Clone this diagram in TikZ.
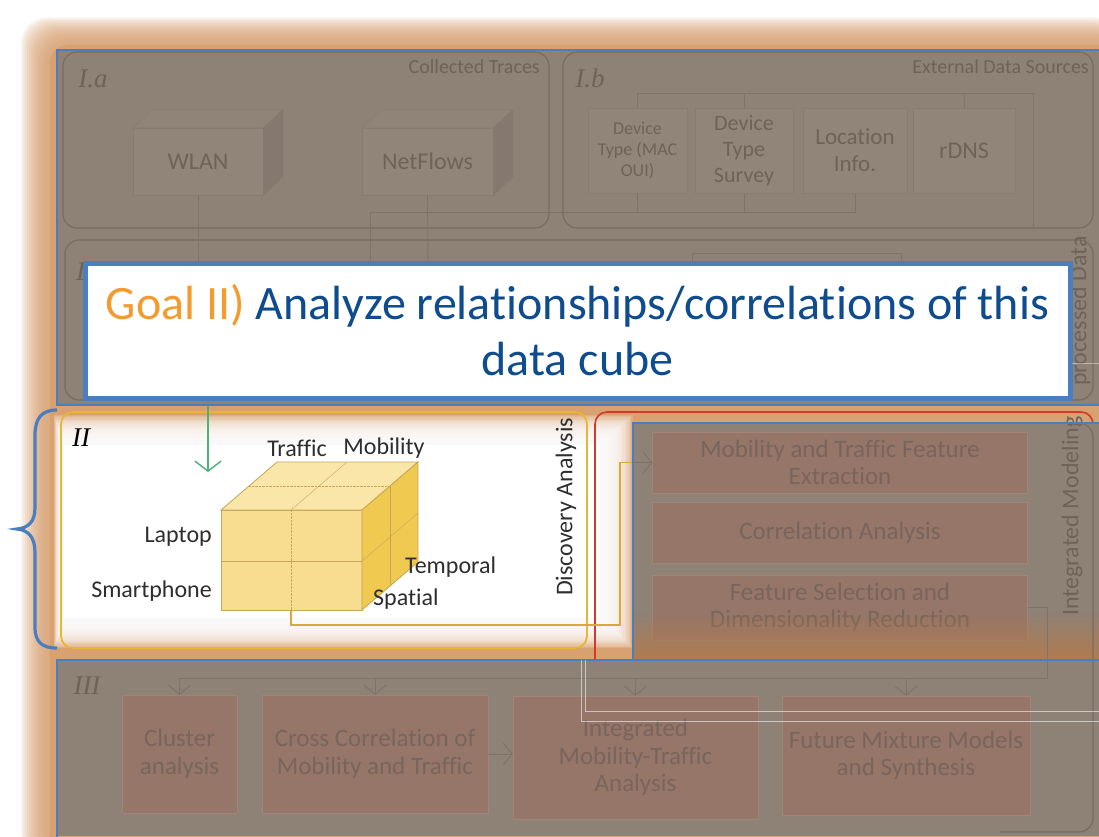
\documentclass[tikz,border=0pt]{standalone}
\usepackage{fontspec}
\setmainfont{Carlito}[Ligatures={NoCommon},RawFeature={-liga;-clig;-dlig}]
\newfontfamily\secfont{Liberation Serif}
\usepackage{tikz}
\usetikzlibrary{arrows.meta}
\usetikzlibrary{positioning}
\usetikzlibrary{fadings}

\definecolor{glow}{HTML}{D9A070}
\definecolor{paneglow}{HTML}{B27B4F}
\definecolor{dimbg}{HTML}{8E8176}
\definecolor{dimedge}{HTML}{786B62}
\definecolor{dimtxt}{HTML}{6F6259}
\definecolor{dimbox}{HTML}{957669}
\definecolor{dimboxtxt}{HTML}{7A655C}
\definecolor{frameblue}{HTML}{4A7EBF}
\definecolor{goalorange}{HTML}{F39B2F}
\definecolor{goalblue}{HTML}{0F4C8D}
\definecolor{cubefront}{HTML}{F8DC8F}
\definecolor{cubetop}{HTML}{FBE6A9}
\definecolor{cubeside}{HTML}{F0C950}
\definecolor{cubeedge}{HTML}{C7A659}
\definecolor{cubetxt}{HTML}{2E2E2E}
\definecolor{boxgold}{HTML}{EBB531}
\definecolor{linkgold}{HTML}{D8A838}
\definecolor{arrowgreen}{HTML}{4CB27A}
\definecolor{modred}{HTML}{D6392B}

\begin{document}
\begin{tikzpicture}[x=1pt,y=-1pt,every node/.style={inner sep=0pt},
  dimtext/.style={text=dimtxt,align=center,font=\fontsize{24}{27.5}\selectfont},
  srcbox/.style={draw=dimedge!25!dimbg,fill=dimbg!97!white,dimtext},
  srctop/.style={draw=dimedge!25!dimbg,fill=dimbg!98!white},
  srcside/.style={draw=dimedge!30!dimbg,fill=dimedge!40!dimbg},
  stepbox/.style={draw=dimbox!90!white,fill=dimbox,text=dimboxtxt,align=center,font=\fontsize{25}{27.5}\selectfont},
  sectionframe/.style={draw=dimedge,line width=1.2pt,rounded corners=14pt},
  dimline/.style={draw=dimedge!70!dimbg,line width=0.9pt},
  dimarrow/.style={dimline,-{Straight Barb[length=9pt,width=22pt]}},
  secname/.style={font=\secfont\itshape\fontsize{27}{27}\selectfont},
  cubelabel/.style={text=cubetxt,font=\fontsize{24}{28}\selectfont},
  cubeface/.style={draw=cubeedge,line width=0.8pt},
  pane/.style={fill=dimbg},
  paneframe/.style={draw=frameblue,line width=1.6pt}]
  \useasboundingbox (0,0) rectangle (1099,836);
  \fill[white] (0,0) rectangle (1099,836);

  % soft orange frame
  \foreach \k in {0,...,14}
    \fill[glow,opacity=0.13,rounded corners=26pt] ({49-2*\k},{44-1.9*\k}) rectangle (1120,860);
  \fill[glow,rounded corners=18pt] (50,45) rectangle (1120,860);

  % discovery analysis
  \fill[white] (64,445) rectangle (600,618);
  \foreach \k in {1,...,25}
    \fill[white,opacity=0.15] ({64-0.4*\k},{445-1.2*\k}) rectangle ({600+1.3*\k},{618+1.2*\k});
  \draw[boxgold,line width=1.8pt,rounded corners=12pt] (61,412) rectangle (587,648);
  \node (ii) at (81,438)[secname]{II};
  \node (disc) at (566,507)[rotate=90,text=cubetxt,font=\fontsize{24}{28}\selectfont]{Discovery Analysis};

  \path[cubeface,fill=cubefront] (221,510) rectangle (362,610);
  \path[cubeface,fill=cubetop] (221,510)--(277,462)--(418,462)--(362,510)--cycle;
  \path[cubeface,fill=cubeside] (362,510)--(418,462)--(418,562)--(362,610)--cycle;
  \draw[cubeedge,densely dotted] (291,510)--(291,610);
  \draw[cubeedge] (221,561)--(362,561);
  \draw[cubeedge,densely dotted] (249,486)--(390,486);
  \draw[cubeedge] (291,510)--(347,462);
  \draw[cubeedge] (390,486)--(390,586);
  \draw[cubeedge] (362,561)--(418,513);
  \coordinate (cubebot) at (291,610);
  \coordinate (bend) at (620,625);

  \node (traffic) at (297,448)[cubelabel]{Traffic};
  \node (mobility) at (384,448)[cubelabel]{Mobility};
  \node (laptop) at (212,537)[cubelabel,anchor=east]{Laptop};
  \node (phone) at (212,591)[cubelabel,anchor=east]{Smartphone};
  \node (temporal) at (405,567)[cubelabel,anchor=west]{Temporal};
  \node (spatial) at (373,599)[cubelabel,anchor=west]{Spatial};

  \draw[modred,line width=1.6pt,rounded corners=12pt] (595,660)|-(1093,412)--(1093,430);

  % collected traces and external sources
  \fill[pane] (57,50) rectangle (1099,405);
  \draw[sectionframe] (63,52) rectangle (549,228);
  \draw[sectionframe] (563,52) rectangle (1093,228);
  \draw[sectionframe] (65,240) rectangle (1093,400);
  \node (ia) at (93,79)[secname,text=dimtxt]{I.a};
  \node (ib) at (590,78)[secname,text=dimtxt]{I.b};
  \node (ic) at (90,272)[secname,text=dimtxt]{I.c};
  \node (traces) at (540,67)[dimtext,anchor=east,font=\fontsize{20}{22}\selectfont]{Collected Traces};
  \node (external) at (1089,67)[dimtext,anchor=east,font=\fontsize{20}{22}\selectfont]{External Data Sources};

  \node (wlan) at (198,161.5)[srcbox,minimum width=130pt,minimum height=67pt]{WLAN};
  \draw[srctop] (wlan.north west)--++(20,-18)--++(130,0)--(wlan.north east)--cycle;
  \draw[srcside] (wlan.north east)--++(20,-18)--++(0,67)--(wlan.south east)--cycle;
  \node (netflows) at (427.5,161.5)[srcbox,minimum width=131pt,minimum height=67pt]{NetFlows};
  \draw[srctop] (netflows.north west)--++(20,-18)--++(131,0)--(netflows.north east)--cycle;
  \draw[srcside] (netflows.north east)--++(20,-18)--++(0,67)--(netflows.south east)--cycle;

  \node (oui) at (637.5,150.5)[srcbox,minimum width=99pt,minimum height=85pt,font=\fontsize{18}{21}\selectfont]{Device\\Type (MAC\\OUI)};
  \node (survey) at (744,150.5)[srcbox,minimum width=98pt,minimum height=85pt,font=\fontsize{22}{26}\selectfont]{Device\\Type\\Survey};
  \node (location) at (855,150.5)[srcbox,minimum width=104pt,minimum height=85pt,font=\fontsize{23}{27}\selectfont]{Location\\Info.};
  \node (rdns) at (964,150.5)[srcbox,minimum width=102pt,minimum height=85pt,font=\fontsize{24}{27}\selectfont]{rDNS};

  \coordinate (srcbus) at (1033,93);
  \coordinate (merge) at (370,212);
  \draw[dimline](oui.north)|-(srcbus)--(1033,228);
  \draw[dimline](survey.north)--(survey.north|-srcbus);
  \draw[dimline](rdns.north)--(rdns.north|-srcbus);
  \draw[dimline](oui.south)--(oui.south|-merge);
  \draw[dimline](survey.south)--(survey.south|-merge);
  \draw[dimline](location.south)|-(merge)--(370,268);
  \draw[dimline](wlan.south)--(198,268);
  \draw[dimline](netflows.south)--(428,268);
  \draw[dimline](692,253) rectangle (901,300);
  \node (prep) at (1080,311)[dimtext,rotate=90]{processed Data};

  % integrated modeling
  \fill[pane] (633,423) rectangle (1099,660);
  \node (mtfe) at (840,462.5)[stepbox,minimum width=375pt,minimum height=61pt]{Mobility and Traffic Feature\\Extraction};
  \node (corr) at (840,532.5)[stepbox,minimum width=375pt,minimum height=61pt]{Correlation Analysis};
  \node (fsdr) at (840,607.5)[stepbox,minimum width=375pt,minimum height=65pt]{Feature Selection and\\Dimensionality Reduction};
  \fill[paneglow,path fading=north] (633,612) rectangle (1099,660);
  \node (model) at (1072,516)[dimtext,rotate=90]{Integrated Modeling};

  % analysis and synthesis
  \fill[pane] (57,660) rectangle (1099,836);
  \draw[sectionframe] (633,423)-|(1093,832)--(1000,832);
  \node (iii) at (87,686)[secname,text=dimtxt]{III};
  \node (cluster) at (179.5,754)[stepbox,minimum width=115pt,minimum height=118pt]{Cluster\\analysis};
  \node (cross) at (375,754)[stepbox,minimum width=226pt,minimum height=118pt]{Cross Correlation of\\Mobility and Traffic};
  \node (integ) at (635.5,757.5)[stepbox,minimum width=245pt,minimum height=123pt]{Integrated\\Mobility-Traffic\\Analysis};
  \node (mixture) at (906,755.5)[stepbox,minimum width=248pt,minimum height=119pt]{Future Mixture Models\\and Synthesis};

  \coordinate (fanout) at (1047,678);
  \draw[dimline](fsdr.east)-|(fanout)--(fanout-|cluster.north);
  \foreach \b in {cluster,cross,integ,mixture}
    \draw[dimarrow](fanout-|\b.north)--(\b.north);
  \draw[dimarrow](cross.east)--(cross.east-|integ.west);

  \begin{scope}
    \clip (633,423) rectangle (1099,660);
    \draw[dimarrow](cubebot)|-(bend)|-(mtfe.west);
  \end{scope}
  \begin{scope}
    \clip (0,405) rectangle (633,660);
    \draw[linkgold,line width=1.6pt](cubebot)|-(bend)|-(mtfe.west);
  \end{scope}

  \coordinate (icout) at (208,405);
  \coordinate (cubein) at (208,472);
  \draw[arrowgreen,line width=1.4pt,-{Straight Barb[length=10pt,width=26pt]}](icout)--(cubein);

  \node (goal) at (577.5,330.5)[draw=frameblue,line width=5pt,fill=white,minimum width=985pt,minimum height=135pt,align=center,font=\fontsize{48}{56}\selectfont]{\textcolor{goalorange}{Goal II)} \textcolor{goalblue}{Analyze relationships/correlations of this}\\\textcolor{goalblue}{data cube}};

  \draw[paneframe] (57,50) rectangle (1110,405);
  \draw[paneframe] (633,423) rectangle (1110,660);
  \draw[paneframe] (57,660) rectangle (1110,845);

  \draw[frameblue,line width=3.2pt] (57,410) .. controls (42,410) and (35,418) .. (35,435) -- (35,508) .. controls (35,522) and (28,528) .. (17,529) .. controls (28,530) and (35,537) .. (35,552) -- (35,627) .. controls (35,642) and (42,648) .. (57,648);

  \draw[white,opacity=0.55,line width=0.8pt] (581,660)--(581,721)--(1099,721);
  \draw[white,opacity=0.55,line width=0.8pt] (585,660)--(585,711)--(1099,711);
  \draw[white,opacity=0.4,line width=0.8pt] (1072,363)--(1099,363);
\end{tikzpicture}
\end{document}
